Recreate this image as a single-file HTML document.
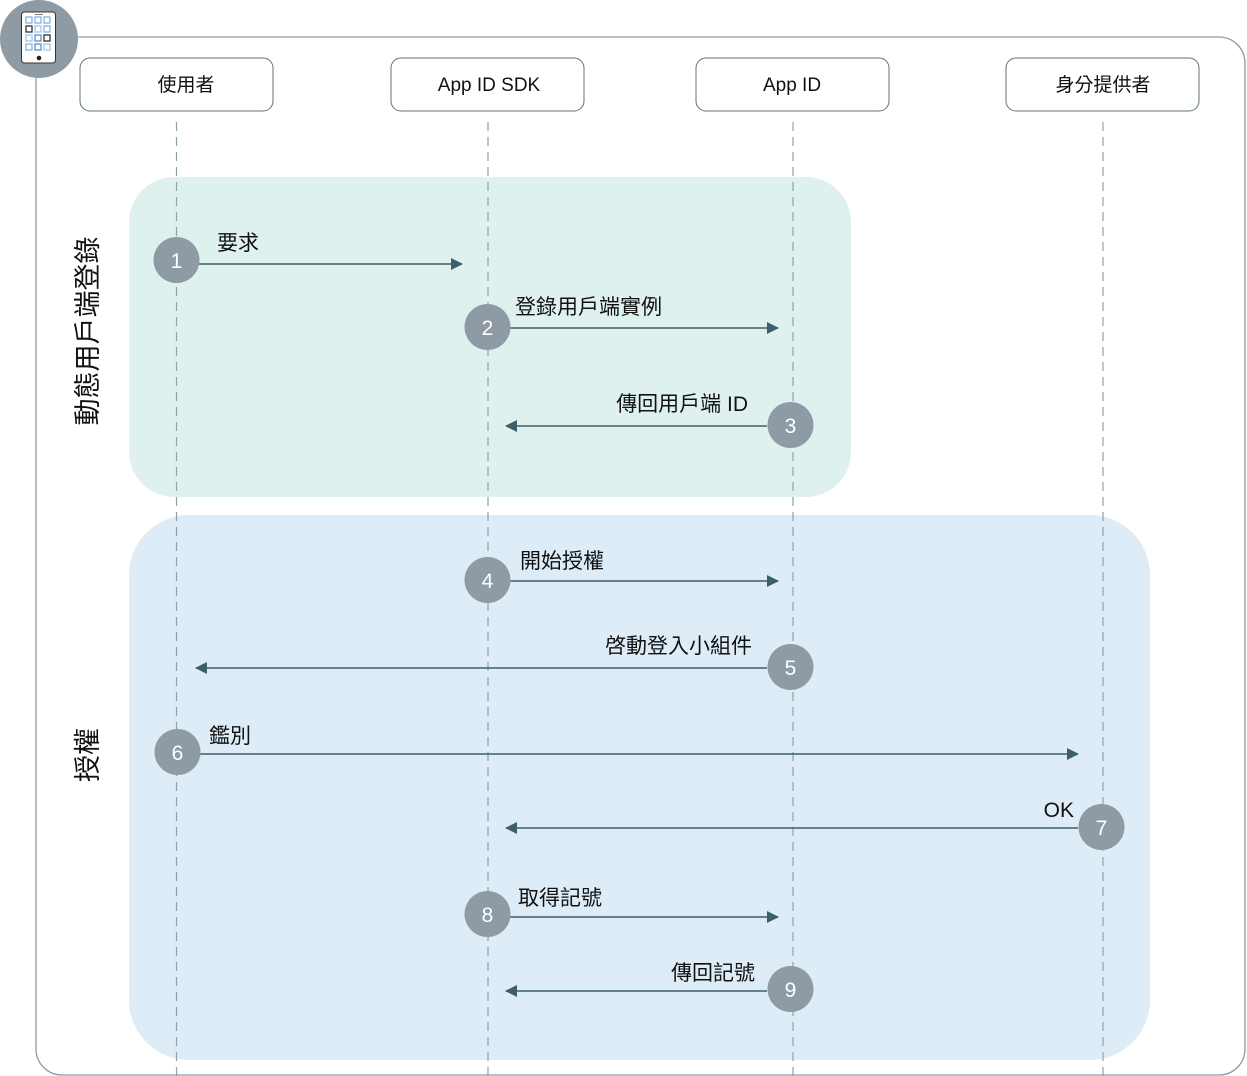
<!DOCTYPE html>
<html><head><meta charset="utf-8"><style>
html,body{margin:0;padding:0;background:#fff;}
svg{display:block;}
text{font-family:"Liberation Sans","Noto Sans CJK TC",sans-serif;}
</style></head><body>
<svg width="1247" height="1076" viewBox="0 0 1247 1076" xmlns="http://www.w3.org/2000/svg">
<defs>
<marker id="ah" markerWidth="12" markerHeight="12" refX="11" refY="6" orient="auto" markerUnits="userSpaceOnUse">
<path d="M0,0 L12,6 L0,12 Z" fill="#3d5f6b"/></marker>
</defs>
<rect x="36" y="37" width="1209" height="1038" rx="26" fill="#fff" stroke="#8a9ba5" stroke-width="1.3"/>
<rect x="129" y="177" width="722" height="320" rx="45" fill="#dff1ee"/>
<rect x="129" y="515" width="1021" height="545" rx="60" fill="#ddecf6"/>
<g fill="#fff" stroke="#5f7380" stroke-width="1">
<rect x="80" y="58" width="193" height="53" rx="10"/>
<rect x="391" y="58" width="193" height="53" rx="10"/>
<rect x="696" y="58" width="193" height="53" rx="10"/>
<rect x="1006" y="58" width="193" height="53" rx="10"/>
</g>
<g font-size="19" text-anchor="middle" fill="#111">
<text x="186" y="91">使用者</text>
<text x="489" y="91">App ID SDK</text>
<text x="792" y="91">App ID</text>
<text x="1103" y="91">身分提供者</text>
</g>
<g stroke="#8aa3a8" stroke-width="1.2" stroke-dasharray="9,6">
<line x1="176.5" y1="122" x2="176.5" y2="1076"/>
<line x1="488" y1="122" x2="488" y2="1076"/>
<line x1="793" y1="122" x2="793" y2="1076"/>
<line x1="1103" y1="122" x2="1103" y2="1076"/>
</g>
<g stroke="#3d5f6b" stroke-width="1.5" marker-end="url(#ah)">
<line x1="199" y1="264" x2="462" y2="264"/>
<line x1="510" y1="328" x2="778" y2="328"/>
<line x1="767" y1="426" x2="506" y2="426"/>
<line x1="510" y1="581" x2="778" y2="581"/>
<line x1="767" y1="668" x2="196" y2="668"/>
<line x1="200" y1="754" x2="1078" y2="754"/>
<line x1="1078" y1="828" x2="506" y2="828"/>
<line x1="510" y1="917" x2="778" y2="917"/>
<line x1="767" y1="991" x2="506" y2="991"/>
</g>
<g fill="#8e9ba5">
<circle cx="176.5" cy="260" r="23"/>
<circle cx="487.5" cy="327" r="23"/>
<circle cx="790.5" cy="425" r="23"/>
<circle cx="487.5" cy="580" r="23"/>
<circle cx="790.5" cy="667" r="23"/>
<circle cx="177.5" cy="752" r="23"/>
<circle cx="1101.5" cy="827" r="23"/>
<circle cx="487.5" cy="914" r="23"/>
<circle cx="790.5" cy="989" r="23"/>
</g>
<g font-size="21" fill="#fff" text-anchor="middle">
<text x="176.5" y="268">1</text>
<text x="487.5" y="335">2</text>
<text x="790.5" y="433">3</text>
<text x="487.5" y="588">4</text>
<text x="790.5" y="675">5</text>
<text x="177.5" y="760">6</text>
<text x="1101.5" y="835">7</text>
<text x="487.5" y="922">8</text>
<text x="790.5" y="997">9</text>
</g>
<g font-size="21" fill="#111">
<text x="217" y="250">要求</text>
<text x="515" y="314">登錄用戶端實例</text>
<text x="748" y="411" text-anchor="end">傳回用戶端 ID</text>
<text x="520" y="568">開始授權</text>
<text x="752" y="653" text-anchor="end">啓動登入小組件</text>
<text x="209" y="743">鑑別</text>
<text x="1074" y="817" text-anchor="end">OK</text>
<text x="518" y="905">取得記號</text>
<text x="755" y="980" text-anchor="end">傳回記號</text>
</g>
<g font-size="27" fill="#111" text-anchor="middle">
<text transform="translate(97,331) rotate(-90)">動態用戶端登錄</text>
<text transform="translate(97,755) rotate(-90)">授權</text>
</g>
<circle cx="39" cy="39" r="39" fill="#8e9ba5"/>
<rect x="21.5" y="12" width="34" height="51" rx="3" fill="#fff" stroke="#333" stroke-width="1"/>
<line x1="35" y1="14.5" x2="43" y2="14.5" stroke="#555" stroke-width="0.8"/>
<circle cx="39" cy="58" r="2.3" fill="#222"/>
<g fill="none" stroke-width="1.3">
<rect x="26" y="17" width="6" height="6" stroke="#7fb3e0"/>
<rect x="35" y="17" width="6" height="6" stroke="#7fb3e0"/>
<rect x="44" y="17" width="6" height="6" stroke="#7fb3e0"/>
<rect x="26" y="26" width="6" height="6" stroke="#333"/>
<rect x="35" y="26" width="6" height="6" stroke="#9cc9ec"/>
<rect x="44" y="26" width="6" height="6" stroke="#7fb3e0"/>
<rect x="26" y="35" width="6" height="6" stroke="#9cc9ec"/>
<rect x="35" y="35" width="6" height="6" stroke="#5f8fc7"/>
<rect x="44" y="35" width="6" height="6" stroke="#333"/>
<rect x="26" y="44" width="6" height="6" stroke="#7fb3e0"/>
<rect x="35" y="44" width="6" height="6" stroke="#5f8fc7"/>
<rect x="44" y="44" width="6" height="6" stroke="#9cc9ec"/>
</g>
</svg>
</body></html>
